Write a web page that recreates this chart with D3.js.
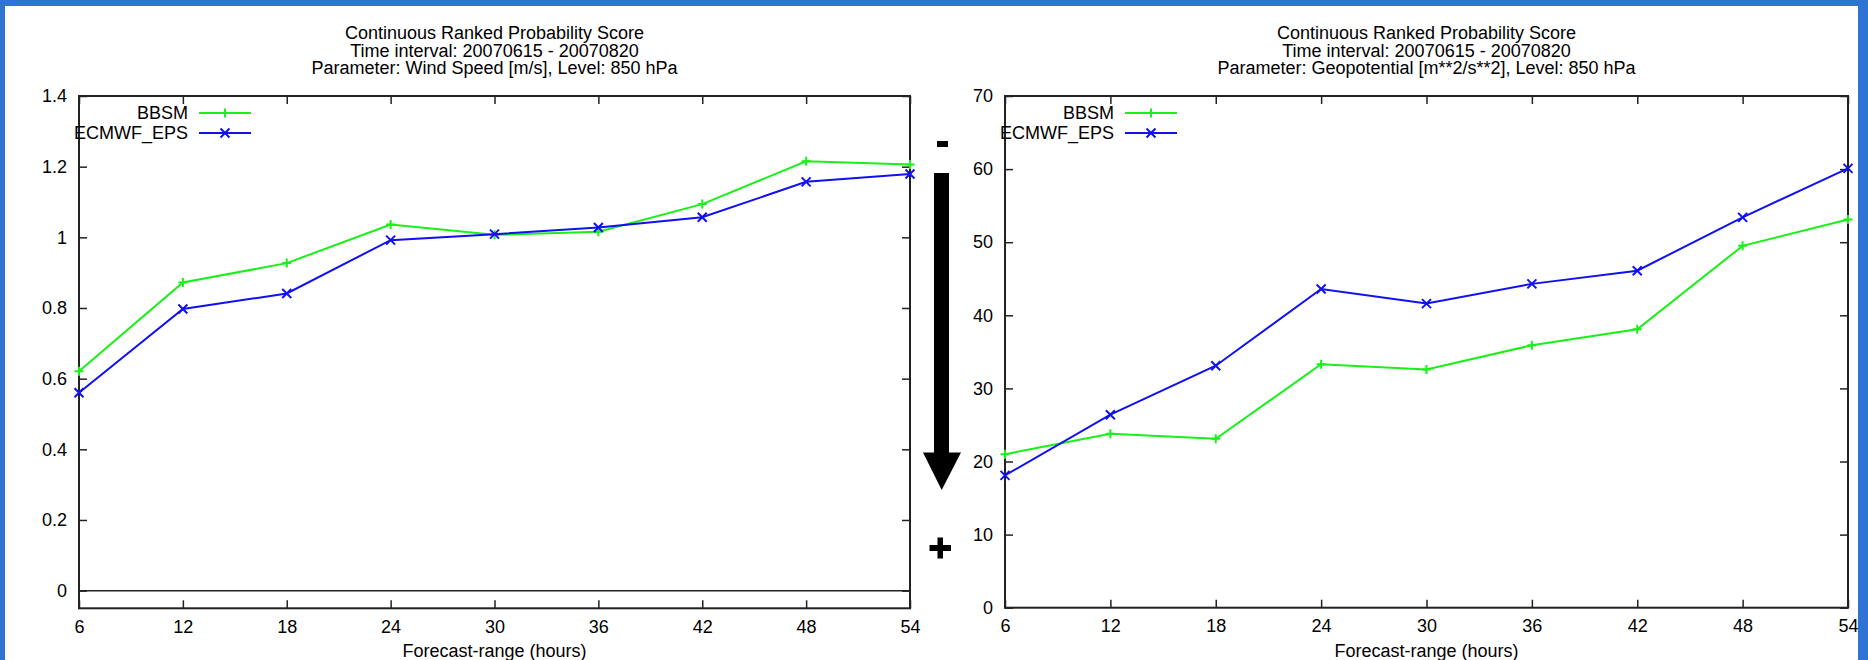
<!DOCTYPE html>
<html>
<head>
<meta charset="utf-8">
<script src="https://cdn.jsdelivr.net/npm/d3@7"></script>
<style>
  body { margin: 0; background: #2f74d2; }
  svg { display: block; }
  text { font-family: "Liberation Sans", Arial, sans-serif; fill: #000; }
</style>
</head>
<body>
<svg id="chart" width="1868" height="660"></svg>
<script>
// Forecast ranges (hours)
const hours = [6, 12, 18, 24, 30, 36, 42, 48, 54];

// CRPS, wind speed 850 hPa
const windBBSM  = [0.621, 0.872, 0.927, 1.036, 1.007, 1.016, 1.094, 1.215, 1.206];
const windECMWF = [0.560, 0.797, 0.841, 0.992, 1.009, 1.028, 1.057, 1.157, 1.179];

// CRPS, geopotential 850 hPa
const geoBBSM  = [21.0, 23.8, 23.1, 33.3, 32.6, 35.9, 38.1, 49.5, 53.1];
const geoECMWF = [18.1, 26.4, 33.1, 43.6, 41.6, 44.3, 46.1, 53.4, 60.1];

const windTicks = [0, 0.2, 0.4, 0.6, 0.8, 1, 1.2, 1.4];
const geoTicks = [0, 10, 20, 30, 40, 50, 60, 70];

const seriesNames = ["BBSM", "ECMWF_EPS"];
const titleLines = [
  ["Continuous Ranked Probability Score", "Time interval: 20070615 - 20070820", "Parameter: Wind Speed [m/s], Level: 850 hPa"],
  ["Continuous Ranked Probability Score", "Time interval: 20070615 - 20070820", "Parameter: Geopotential [m**2/s**2], Level: 850 hPa"]
];
const xLabel = "Forecast-range (hours)";

const green = "#18f018";
const blue = "#1010f0";
const border = "#222";
const fontSize = 18;

const svg = d3.select("#chart");

// white page on blue frame
svg.append("rect").attr("width", 1868).attr("height", 660).attr("fill", "#2f74d2");
svg.append("rect").attr("x", 5).attr("y", 6).attr("width", 1853).attr("height", 660).attr("fill", "#fff");

function drawMarker(g, type, cx, cy, color) {
  const s = 4.5;
  const d = type === "plus"
    ? `M${cx - s},${cy}H${cx + s}M${cx},${cy - s}V${cy + s}`
    : `M${cx - s},${cy - s}L${cx + s},${cy + s}M${cx - s},${cy + s}L${cx + s},${cy - s}`;
  g.append("path").attr("d", d).attr("stroke", color).attr("stroke-width", 2).attr("fill", "none");
}

function drawPanel(opt) {
  const x = d3.scaleLinear().domain([6, 54]).range([opt.left, opt.right]);
  const y = d3.scaleLinear().domain(opt.yDomain).range([opt.bottom, opt.top]);
  const g = svg.append("g");

  // title
  const cx = (opt.left + opt.right) / 2;
  opt.title.forEach((t, i) => {
    g.append("text")
      .attr("x", cx).attr("y", 33 + i * 17.5)
      .attr("dy", "0.35em")
      .attr("text-anchor", "middle")
      .attr("font-size", fontSize)
      .text(t);
  });

  // zero line (only if zero is inside)
  if (opt.yDomain[0] < 0) {
    g.append("line")
      .attr("x1", opt.left).attr("x2", opt.right)
      .attr("y1", y(0)).attr("y2", y(0))
      .attr("stroke", border).attr("stroke-width", 1.5);
  }

  const styleAxis = a => {
    a.select(".domain").remove();
    a.selectAll(".tick line").attr("stroke", border).attr("stroke-width", 1.5);
    a.selectAll(".tick text").attr("font-size", fontSize).attr("font-family", "Liberation Sans, Arial, sans-serif").attr("fill", "#000");
  };

  // bottom axis with labels, inward ticks
  g.append("g")
    .attr("transform", `translate(0,${opt.bottom})`)
    .call(d3.axisBottom(x).tickValues(hours).tickSizeInner(-8).tickSizeOuter(0).tickPadding(12).tickFormat(d3.format("d")))
    .call(styleAxis);

  // top mirror ticks
  g.append("g")
    .attr("transform", `translate(0,${opt.top})`)
    .call(d3.axisTop(x).tickValues(hours).tickSizeInner(-8).tickSizeOuter(0).tickFormat(""))
    .call(styleAxis);

  // left axis with labels
  g.append("g")
    .attr("transform", `translate(${opt.left},0)`)
    .call(d3.axisLeft(y).tickValues(opt.ticks).tickSizeInner(-8).tickSizeOuter(0).tickPadding(12).tickFormat(d => String(d)))
    .call(styleAxis);

  // right mirror ticks
  g.append("g")
    .attr("transform", `translate(${opt.right},0)`)
    .call(d3.axisRight(y).tickValues(opt.ticks).tickSizeInner(-8).tickSizeOuter(0).tickFormat(""))
    .call(styleAxis);

  // border box
  g.append("rect")
    .attr("x", opt.left).attr("y", opt.top)
    .attr("width", opt.right - opt.left).attr("height", opt.bottom - opt.top)
    .attr("fill", "none").attr("stroke", border).attr("stroke-width", 2);

  // x label
  g.append("text")
    .attr("x", cx).attr("y", 657)
    .attr("text-anchor", "middle")
    .attr("font-size", fontSize)
    .text(xLabel);

  const line = d3.line().x((d, i) => x(hours[i])).y(d => y(d));
  const series = [
    { name: seriesNames[0], values: opt.a, color: green, marker: "plus" },
    { name: seriesNames[1], values: opt.b, color: blue, marker: "cross" }
  ];

  series.forEach((s, k) => {
    g.append("path")
      .datum(s.values)
      .attr("d", line)
      .attr("fill", "none")
      .attr("stroke", s.color)
      .attr("stroke-width", 2);
    s.values.forEach((v, i) => drawMarker(g, s.marker, x(hours[i]), y(v), s.color));

    // legend
    const ly = opt.top + 17 + k * 20;
    const lx = opt.left + 109;
    g.append("text")
      .attr("x", lx).attr("y", ly)
      .attr("dy", "0.35em")
      .attr("text-anchor", "end")
      .attr("font-size", fontSize)
      .text(s.name);
    g.append("line")
      .attr("x1", lx + 11).attr("x2", lx + 63)
      .attr("y1", ly).attr("y2", ly)
      .attr("stroke", s.color).attr("stroke-width", 2);
    drawMarker(g, s.marker, lx + 37, ly, s.color);
  });
}

drawPanel({
  left: 79, right: 910, top: 96, bottom: 608.3,
  yDomain: [-0.05, 1.4], ticks: windTicks,
  a: windBBSM, b: windECMWF, title: titleLines[0]
});

drawPanel({
  left: 1005, right: 1848, top: 96, bottom: 607.7,
  yDomain: [0, 70], ticks: geoTicks,
  a: geoBBSM, b: geoECMWF, title: titleLines[1]
});

// "better/worse" arrow between the panels
const arrow = svg.append("g").attr("fill", "#000");
arrow.append("rect").attr("x", 937).attr("y", 141).attr("width", 11).attr("height", 6);
arrow.append("path").attr("d", "M934,173H949V452.5H961L941.7,490L923,452.5H934Z");
arrow.append("rect").attr("x", 929.5).attr("y", 545).attr("width", 21.5).attr("height", 6);
arrow.append("rect").attr("x", 937.5).attr("y", 537.5).attr("width", 5.5).attr("height", 21);
</script>
</body>
</html>
